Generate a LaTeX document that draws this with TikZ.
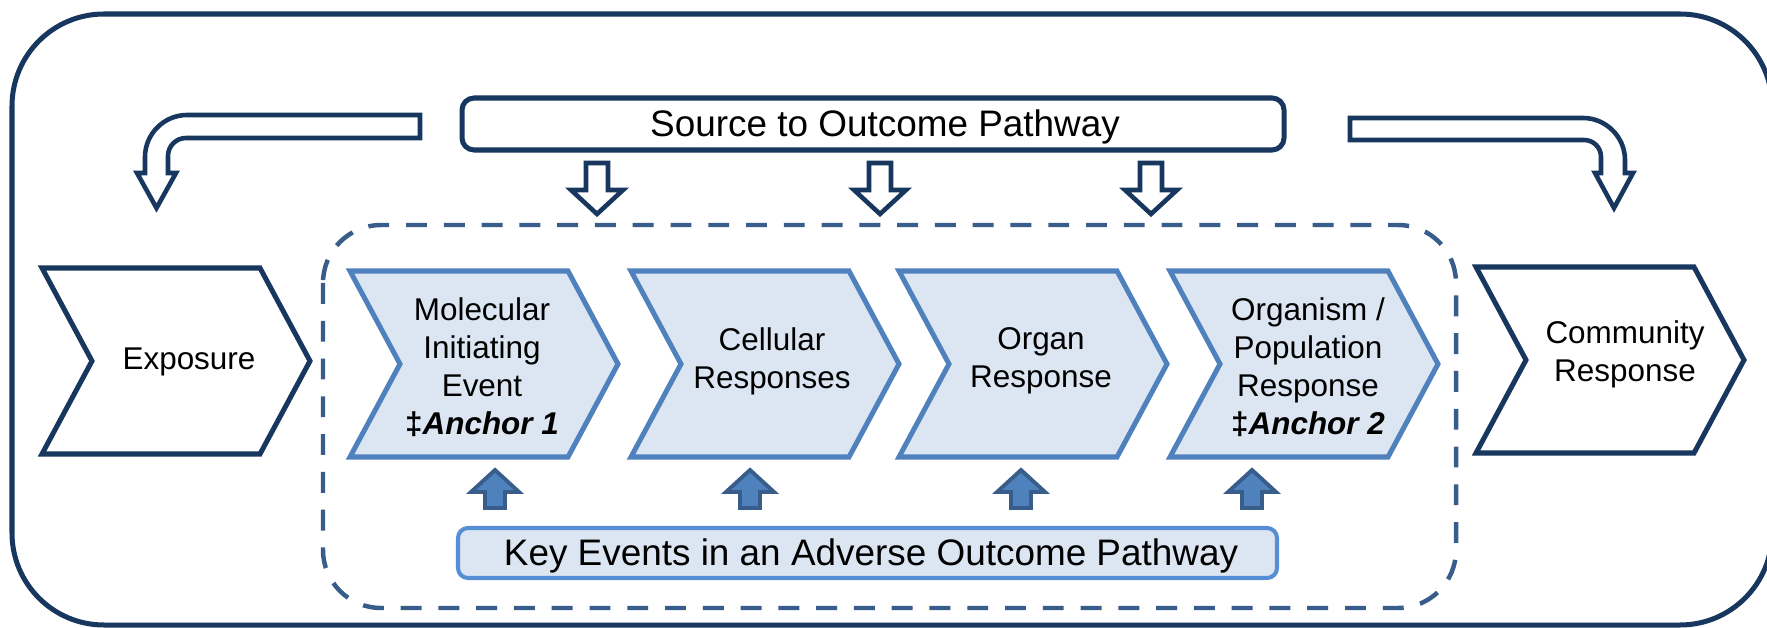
\documentclass[tikz,border=0pt]{standalone}
\usepackage{fontspec}
\setmainfont{Liberation Sans}
\usetikzlibrary{positioning}

\newcommand{\chevron}[3]{\draw[#1] (#2,#3) -- ++(218,0) -- ++(50,93) -- ++(-50,93) -- ++(-218,0) -- ++(50,-93) -- cycle;}
\newcommand{\downblk}[1]{\draw[blkdown] (#1,214) -- ++(-26,-24) -- ++(15,0) -- ++(0,-27) -- ++(22,0) -- ++(0,27) -- ++(15,0) -- cycle;}
\newcommand{\upblk}[1]{\draw[blkup] (#1,470) -- ++(-24,22) -- ++(14,0) -- ++(0,16) -- ++(20,0) -- ++(0,-16) -- ++(14,0) -- cycle;}

\begin{document}
\begin{tikzpicture}[x=0.02cm,y=-0.02cm,
		frameline/.style={draw=cframe,line width=2.85pt},
		aopline/.style={draw=cdash,line width=2.55pt,dash pattern=on 11.9pt off 9.6pt},
		outstep/.style={draw=cframe,fill=white,line width=2.85pt,line join=miter},
		keystep/.style={draw=ckey,fill=cfkey,line width=2.85pt,line join=miter},
		blkdown/.style={draw=cframe,fill=white,line width=2.6pt,line join=miter},
		blkup/.style={draw=cdash,fill=ckey,line width=2.2pt,line join=miter},
		steplbl/.style={align=center,font=\fontsize{17.9}{21.6}\selectfont,inner sep=0pt},
		hdrlbl/.style={font=\fontsize{21}{25}\selectfont,inner sep=0pt}]
				\definecolor{cframe}{rgb}{0.090,0.216,0.369}
				\definecolor{cdash}{rgb}{0.220,0.365,0.541}
				\definecolor{ckey}{rgb}{0.310,0.506,0.741}
				\definecolor{cfkey}{rgb}{0.863,0.902,0.949}
				\definecolor{cbox}{rgb}{0.333,0.557,0.835}
				%
				\useasboundingbox (0,0) rectangle (1767,628);
				\clip (0,0) rectangle (1767,628);
				\fill[white] (0,0) rectangle (1767,628);
				%
				\draw[frameline,rounded corners=1.84cm] (12,14) rectangle (1772,625);
				\draw[aopline,rounded corners=1.16cm] (323,225) rectangle (1456,608);
				%
				\draw[frameline,fill=white,rounded corners=0.24cm] (462,98) rectangle (1284,150);
				\node[hdrlbl,anchor=base] (src) at (885,137) {Source to Outcome Pathway};
				%
				\draw[blkdown] (420,115) -- (187,115) .. controls (164,115) and (145,134) .. (145,157) -- (145,173) -- (137,173) -- (156.5,208) -- (176,173) -- (168,173) -- (168,156) .. controls (168,146) and (176,138) .. (186,138) -- (420,138) -- cycle;
				\draw[blkdown] (1350,118) -- (1583,118) .. controls (1606,118) and (1625,137) .. (1625,160) -- (1625,173) -- (1633,173) -- (1614,208) -- (1595,173) -- (1601,173) -- (1601,157) .. controls (1601,147) and (1593,140) .. (1584,140) -- (1350,140) -- cycle;
				%
				\downblk{597}
				\downblk{880}
				\downblk{1151}
				%
				\chevron{outstep}{42}{268}
				\chevron{keystep}{350}{271}
				\chevron{keystep}{631}{271}
				\chevron{keystep}{899}{271}
				\chevron{keystep}{1170}{271}
				\chevron{outstep}{1476}{267}
				%
				\node[steplbl] (expo) at (189,362) {Exposure};
				\node[steplbl] (mie) at (482,367) {Molecular\\Initiating\\Event\\\textbf{‡\textit{Anchor 1}}};
				\node[steplbl] (cell) at (772,361) {Cellular\\Responses};
				\node[steplbl] (organ) at (1041,361) {Organ\\Response};
				\node[steplbl] (orgpop) at (1308,367) {Organism /\\Population\\Response\\\textbf{‡\textit{Anchor 2}}};
				\node[steplbl] (comm) at (1625,354) {Community\\Response};
				%
				\upblk{495}
				\upblk{750}
				\upblk{1021}
				\upblk{1252}
				%
				\draw[draw=cbox,fill=cfkey,line width=2.3pt,rounded corners=0.2cm] (458,528) rectangle (1277,578);
				\node[hdrlbl,anchor=base] (kelbl) at (871,565) {Key Events in an Adverse Outcome Pathway};
				%
\end{tikzpicture}
\end{document}
